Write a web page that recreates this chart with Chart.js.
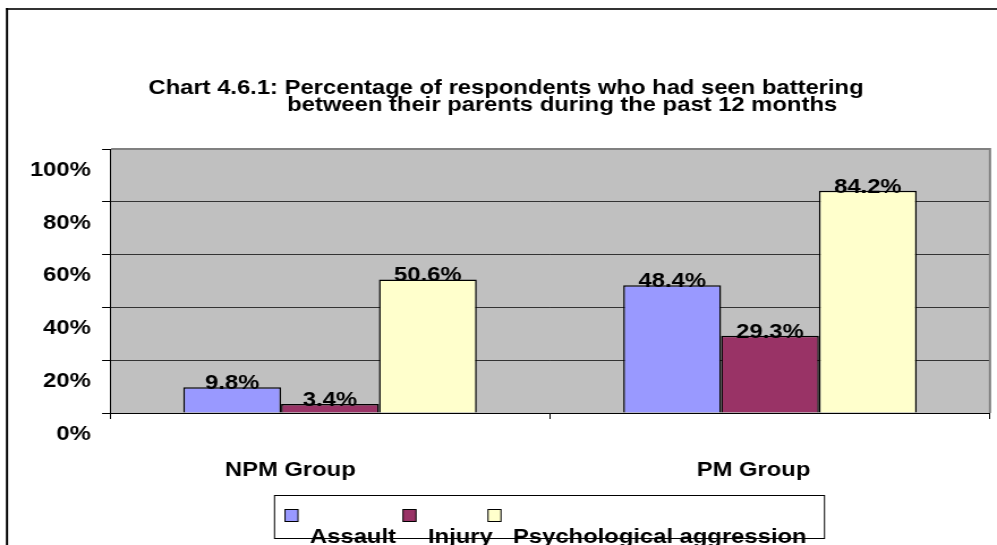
<!DOCTYPE html>
<html>
<head>
<meta charset="utf-8">
<title>Chart 4.6.1</title>
<script src="https://cdn.jsdelivr.net/npm/chart.js@4.4.1/dist/chart.umd.min.js"></script>
<style>
  html, body { margin: 0; padding: 0; background: #fff; }
  /* the source picture is a horizontally stretched excel export, so the
     canvas is drawn narrower and stretched to the full page width */
  #chart { display: block; width: 997px !important; height: 545px !important; }
</style>
</head>
<body>
<canvas id="chart" width="880" height="545"></canvas>
<script>
// data
const groups = ["NPM Group", "PM Group"];
const seriesNames = ["Assault", "Injury", "Psychological aggression"];
const assault = [9.8, 48.4];
const injury = [3.4, 29.3];
const psychological = [50.6, 84.2];
const yTicks = [0, 20, 40, 60, 80, 100];
const titleLines = [
    "Chart 4.6.1: Percentage of respondents who had seen battering",
    "                 between their parents during the past 12 months"
];

const FONT = "'Liberation Sans', Arial, sans-serif";
const colors = ["#9999ff", "#993366", "#ffffcc"];
const SX = 997 / 880;          // horizontal stretch of the page
const X = v => v / SX;         // page px -> canvas px
const labelPad = [12, 5];      // trailing spaces, labels sit left of centre
const legendX = [285, 403, 488];

// gray plot background + outer frame lines
const frame = {
    id: "frame",
    beforeDraw(chart) {
        const { ctx, chartArea: a } = chart;
        ctx.save();
        ctx.fillStyle = "#c0c0c0";
        ctx.fillRect(a.left, a.top, a.right - a.left, a.bottom - a.top);
        ctx.lineWidth = 2;
        ctx.strokeStyle = "#333";
        ctx.beginPath();
        ctx.moveTo(X(6), 9);
        ctx.lineTo(chart.width, 9);
        ctx.stroke();
        ctx.strokeStyle = "#000";
        ctx.beginPath();
        ctx.moveTo(X(7), 8);
        ctx.lineTo(X(7), chart.height);
        ctx.stroke();
        ctx.restore();
    },
    beforeDatasetsDraw(chart) {
        const { ctx, chartArea: a } = chart;
        ctx.save();
        ctx.strokeStyle = "#808080";
        ctx.lineWidth = 2;
        ctx.beginPath();
        ctx.moveTo(a.left + 1, a.top);
        ctx.lineTo(a.right, a.top);
        ctx.lineTo(a.right, a.bottom);
        ctx.stroke();
        ctx.restore();
    }
};

// value labels sitting on the top edge of each bar
const valueLabels = {
    id: "valueLabels",
    afterDatasetsDraw(chart) {
        const ctx = chart.ctx;
        ctx.save();
        ctx.font = "bold 21px " + FONT;
        ctx.fillStyle = "#000";
        ctx.textAlign = "center";
        ctx.textBaseline = "alphabetic";
        chart.data.datasets.forEach((ds, i) => {
            chart.getDatasetMeta(i).data.forEach((bar, j) => {
                ctx.fillText(ds.data[j].toFixed(1) + "%", bar.x, bar.y + 2);
            });
        });
        ctx.restore();
    }
};

// excel-style legend: box, swatches, names dropped below the swatches
const boxLegend = {
    id: "boxLegend",
    afterDraw(chart) {
        const ctx = chart.ctx;
        ctx.save();
        ctx.strokeStyle = "#000";
        ctx.lineWidth = 1;
        ctx.strokeRect(X(274.5), 495.5, X(550), 43);
        ctx.font = "bold 21px " + FONT;
        ctx.textBaseline = "alphabetic";
        ctx.textAlign = "left";
        chart.data.datasets.forEach((ds, i) => {
            const x = X(legendX[i]);
            ctx.fillStyle = ds.backgroundColor;
            ctx.fillRect(x, 509, X(13), 13);
            ctx.strokeRect(x, 509.5, X(13), 12);
            ctx.fillStyle = "#000";
            ctx.fillText(ds.label, x + X(25), 543);
        });
        ctx.restore();
    }
};

const datasets = [assault, injury, psychological].map((values, i) => ({
    label: seriesNames[i],
    data: values,
    backgroundColor: colors[i],
    borderColor: "#000",
    borderWidth: 1.5,
    barPercentage: 1,
    categoryPercentage: 0.667
}));

new Chart(document.getElementById("chart"), {
    type: "bar",
    data: { labels: groups, datasets: datasets },
    options: {
        responsive: false,
        animation: false,
        layout: { padding: { left: 19.4, right: 880 - X(990), top: 0, bottom: 0 } },
        scales: {
            x: {
                afterFit(scale) { scale.height = 132; },
                grid: {
                    offset: true,
                    drawOnChartArea: false,
                    drawTicks: true,
                    tickLength: 6,
                    tickColor: "#000"
                },
                border: { display: true, color: "#000", width: 1 },
                ticks: {
                    padding: 39,
                    color: "#000",
                    font: { family: FONT, size: 21, weight: "bold" },
                    callback: (v, i) => groups[i] + " ".repeat(labelPad[i])
                }
            },
            y: {
                min: 0,
                max: 100,
                afterFit(scale) { scale.width = X(110) - 19.4; },
                afterBuildTicks(scale) {
                    scale.ticks = yTicks.map(v => ({ value: v }));
                },
                grid: {
                    color: "#333",
                    lineWidth: 1,
                    tickLength: 7,
                    tickColor: "#000"
                },
                border: { display: true, color: "#000", width: 1 },
                ticks: {
                    padding: 10,
                    labelOffset: 21,
                    color: "#000",
                    font: { family: FONT, size: 21, weight: "bold" },
                    callback: v => v + "%"
                }
            }
        },
        plugins: {
            legend: { display: false },
            tooltip: { enabled: false },
            title: {
                display: true,
                text: titleLines,
                color: "#000",
                font: { family: FONT, size: 21, weight: "bold", lineHeight: 0.81 },
                padding: { top: 79.5, bottom: 35.5 }
            }
        }
    },
    plugins: [frame, valueLabels, boxLegend]
});
</script>
</body>
</html>
